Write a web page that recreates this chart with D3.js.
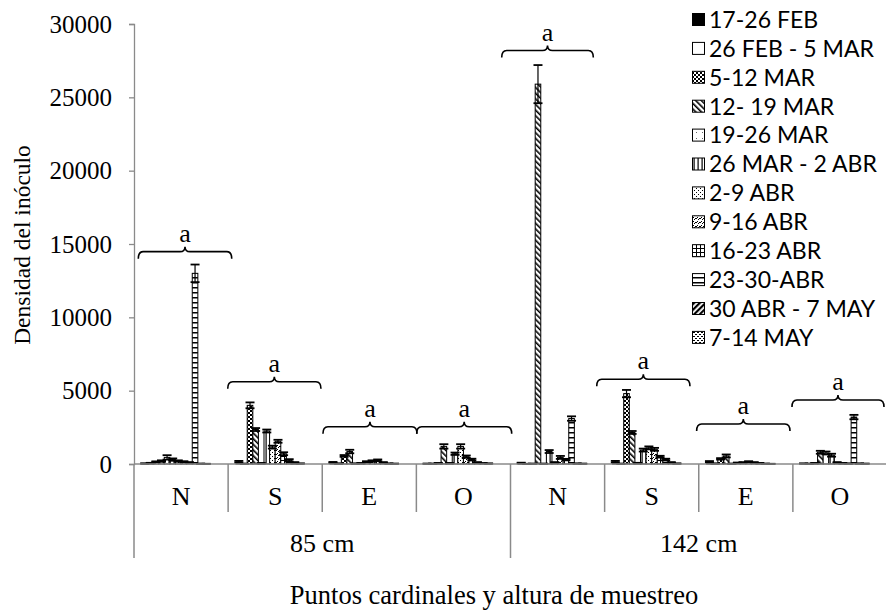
<!DOCTYPE html>
<html><head><meta charset="utf-8">
<script src="https://cdn.jsdelivr.net/npm/d3@7"></script>
<style>body{margin:0;background:#fff}svg{display:block}</style>
</head><body>
<svg id="chart" width="886" height="611"></svg>
<script>
// ---------- DATA ----------
const points = ["N", "S", "E", "O", "N", "S", "E", "O"];
const heights = ["85 cm", "142 cm"];
const seriesNames = ["17-26 FEB", "26 FEB - 5 MAR", "5-12 MAR", "12- 19 MAR", "19-26 MAR",
  "26 MAR - 2 ABR", "2-9 ABR", "9-16 ABR", "16-23 ABR", "23-30-ABR", "30 ABR - 7 MAY", "7-14 MAY"];
// values per series, groups: 85 N,S,E,O then 142 N,S,E,O
const feb17_26   = [30, 150, 100, 20, 60, 150, 150, 30];
const feb26_mar5 = [60, 20, 30, 20, 10, 20, 30, 20];
const mar5_12    = [150, 4000, 550, 50, 20, 4800, 350, 50];
const mar12_19   = [200, 2350, 850, 1200, 25900, 2150, 550, 800];
const mar19_26   = [450, 50, 30, 50, 20, 60, 20, 750];
const mar26_abr2 = [300, 2250, 50, 700, 850, 950, 80, 600];
const abr2_9     = [200, 1150, 150, 1200, 100, 1100, 100, 100];
const abr9_16    = [150, 1550, 200, 500, 450, 1000, 150, 50];
const abr16_23   = [100, 700, 250, 300, 300, 500, 100, 30];
const abr23_30   = [13000, 250, 100, 100, 3100, 300, 50, 3200];
const abr30_may7 = [20, 80, 30, 50, 30, 100, 20, 30];
const may7_14    = [10, 30, 20, 30, 20, 30, 10, 20];
// error bars (same layout)
const err17_26   = [20, 60, 40, 10, 30, 60, 50, 10];
const err26_5    = [20, 10, 10, 10, 5, 10, 10, 10];
const err5_12    = [30, 200, 60, 20, 10, 250, 50, 20];
const err12_19   = [50, 100, 120, 150, 1300, 100, 100, 100];
const err19_26   = [150, 20, 10, 20, 10, 20, 10, 100];
const err26_2    = [80, 100, 20, 80, 100, 100, 20, 100];
const err2_9     = [50, 100, 40, 150, 30, 100, 30, 30];
const err9_16    = [40, 100, 50, 80, 100, 100, 40, 20];
const err16_23   = [30, 100, 60, 60, 50, 60, 30, 10];
const err23_30   = [600, 80, 30, 30, 150, 60, 20, 150];
const err30_7    = [10, 50, 10, 10, 10, 30, 10, 10];
const err7_14    = [5, 10, 5, 10, 5, 10, 5, 5];
const yTicks = [0, 5000, 10000, 15000, 20000, 25000, 30000];
const bracketLabels = ["a", "a", "a", "a", "a", "a", "a", "a"];
const bracketLevels = [14480, 5610, 2540, 2540, 28190, 5780, 2730, 4360];
const xTitle = "Puntos cardinales y altura de muestreo";
const yTitle = "Densidad del inóculo";

const seriesValues = [feb17_26, feb26_mar5, mar5_12, mar12_19, mar19_26, mar26_abr2,
  abr2_9, abr9_16, abr16_23, abr23_30, abr30_may7, may7_14];
const seriesErrors = [err17_26, err26_5, err5_12, err12_19, err19_26, err26_2,
  err2_9, err9_16, err16_23, err23_30, err30_7, err7_14];

// ---------- LAYOUT ----------
const svg = d3.select("#chart");
const serif = "'Liberation Serif','Times New Roman',serif";
const sans = "Lato,'Open Sans',sans-serif";
const axisGray = "#8a8a8a";

const x0 = d3.scaleBand().domain(d3.range(points.length)).range([134, 887]);
const bw = x0.bandwidth();
const x1 = d3.scaleBand().domain(d3.range(14)).range([7.9, bw - 7.9]);
const y = d3.scaleLinear().domain([0, 30000]).range([464, 24]);

// ---------- PATTERNS ----------
const defs = svg.append("defs");
function pat(id, w, h, draw, transform) {
  const p = defs.append("pattern").attr("id", id).attr("patternUnits", "userSpaceOnUse")
    .attr("width", w).attr("height", h);
  if (transform) p.attr("patternTransform", transform);
  p.append("rect").attr("width", w).attr("height", h).attr("fill", "#fff");
  draw(p);
}
const fills = [];
fills[0] = "#000";
fills[1] = "#fff";
pat("p2", 4, 4, p => { p.append("rect").attr("width", 2).attr("height", 2);
  p.append("rect").attr("x", 2).attr("y", 2).attr("width", 2).attr("height", 2); });
fills[2] = "url(#p2)";
pat("p3", 4, 4, p => p.append("rect").attr("width", 1.6).attr("height", 4), "rotate(-45)");
fills[3] = "url(#p3)";
pat("p4", 6, 6, p => p.append("rect").attr("width", 1).attr("height", 1).attr("fill", "#666"));
fills[4] = "url(#p4)";
pat("p5", 4, 4, p => p.append("rect").attr("x", 1.5).attr("width", 1.2).attr("height", 4));
fills[5] = "url(#p5)";
pat("p6", 4, 4, p => { p.append("rect").attr("width", 1).attr("height", 1);
  p.append("rect").attr("x", 2).attr("y", 2).attr("width", 1).attr("height", 1); });
fills[6] = "url(#p6)";
pat("p7", 4, 4, p => p.append("path").attr("d", "M0,3 L2,1 M2,4 L4,2").attr("stroke", "#000").attr("stroke-width", 1));
fills[7] = "url(#p7)";
pat("p8", 4, 4, p => { p.append("rect").attr("width", 4).attr("height", 1);
  p.append("rect").attr("width", 1).attr("height", 4); });
fills[8] = "url(#p8)";
pat("p9", 5, 5, p => p.append("rect").attr("y", 2).attr("width", 5).attr("height", 1.5));
fills[9] = "url(#p9)";
pat("p10", 4, 4, p => p.append("rect").attr("width", 2.2).attr("height", 4), "rotate(45)");
fills[10] = "url(#p10)";
pat("p11", 4, 4, p => { p.append("rect").attr("x", 1).attr("width", 2).attr("height", 1);
  p.append("rect").attr("x", 0).attr("y", 2).attr("width", 1).attr("height", 1);
  p.append("rect").attr("x", 3).attr("y", 2).attr("width", 1).attr("height", 1); });
fills[11] = "url(#p11)";

// ---------- BARS ----------
const barData = [];
seriesValues.forEach((vals, s) => vals.forEach((v, g) =>
  barData.push({ s, g, v, e: seriesErrors[s][g] })));

const gBars = svg.append("g");
gBars.selectAll("rect").data(barData).join("rect")
  .attr("x", d => x0(d.g) + x1(d.s))
  .attr("y", d => y(d.v))
  .attr("width", x1.bandwidth())
  .attr("height", d => y(0) - y(d.v))
  .attr("fill", d => fills[d.s])
  .attr("stroke", "#000").attr("stroke-width", 1);

const gErr = svg.append("g").attr("stroke", "#000").attr("stroke-width", 1.8);
barData.forEach(d => {
  const cx = x0(d.g) + x1(d.s) + x1.bandwidth() / 2;
  const hi = y(d.v + d.e), lo = y(Math.max(0, d.v - d.e));
  gErr.append("line").attr("x1", cx).attr("x2", cx).attr("y1", hi).attr("y2", lo).attr("stroke-width", 1.2);
  gErr.append("line").attr("x1", cx - 4.5).attr("x2", cx + 4.5).attr("y1", hi).attr("y2", hi);
  gErr.append("line").attr("x1", cx - 4.5).attr("x2", cx + 4.5).attr("y1", lo).attr("y2", lo);
});

// ---------- AXES ----------
const yAxis = svg.append("g").attr("transform", "translate(134,0)")
  .call(d3.axisLeft(y).tickValues(yTicks).tickSize(5).tickPadding(17).tickFormat(d3.format("d")));
yAxis.select(".domain").attr("stroke", axisGray).attr("stroke-width", 1.3);
yAxis.selectAll(".tick line").attr("stroke", axisGray).attr("stroke-width", 1.3);
yAxis.selectAll(".tick text").attr("font-family", serif).attr("font-size", 25).attr("fill", "#000");

// x axis baseline
svg.append("line").attr("x1", 134).attr("x2", 887).attr("y1", y(0)).attr("y2", y(0))
  .attr("stroke", axisGray).attr("stroke-width", 1.5);
// separators
const gx = svg.append("g");
d3.range(points.length + 1).forEach(i => {
  const xx = i < points.length ? x0(i) : 887;
  const outer = i % 4 === 0;
  gx.append("line").attr("x1", xx).attr("x2", xx).attr("y1", y(0)).attr("y2", outer ? 558 : 512)
    .attr("stroke", axisGray).attr("stroke-width", 1.5);
});
gx.selectAll("text.pt").data(points).join("text").attr("class", "pt")
  .attr("x", (d, i) => x0(i) + bw / 2).attr("y", 505)
  .attr("text-anchor", "middle").attr("font-family", serif).attr("font-size", 26).text(d => d);
gx.selectAll("text.ht").data(heights).join("text").attr("class", "ht")
  .attr("x", (d, i) => (x0(i * 4) + x0(i * 4 + 3) + bw) / 2).attr("y", 552)
  .attr("text-anchor", "middle").attr("font-family", serif).attr("font-size", 26).text(d => d);

svg.append("text").attr("x", 494).attr("y", 604).attr("text-anchor", "middle")
  .attr("font-family", serif).attr("font-size", 26.5).text(xTitle);
svg.append("text").attr("transform", "translate(30,245) rotate(-90)").attr("text-anchor", "middle")
  .attr("font-family", serif).attr("font-size", 23.5).text(yTitle);

// ---------- BRACKETS ----------
const brOff = [[4.3, 3.6], [-0.4, -1.3], [0.7, 0.6], [0.3, 1.2], [-8.8, -11.3], [-7.9, -8.8], [-2.1, -2.9], [-0.9, -3]];
const gBr = svg.append("g");
bracketLevels.forEach((lv, i) => {
  const xl = x0(i) + brOff[i][0], xr = x0(i) + bw + brOff[i][1], xm = (xl + xr) / 2, yb = y(lv);
  const path = `M${xl},${yb + 7} Q${xl},${yb} ${xl + 5},${yb} L${xm - 5},${yb} Q${xm},${yb} ${xm},${yb - 5} ` +
    `Q${xm},${yb} ${xm + 5},${yb} L${xr - 5},${yb} Q${xr},${yb} ${xr},${yb + 7}`;
  gBr.append("path").attr("d", path).attr("fill", "none").attr("stroke", "#000").attr("stroke-width", 1.6);
  gBr.append("text").attr("x", xm).attr("y", yb - 10).attr("text-anchor", "middle")
    .attr("font-family", serif).attr("font-size", 26).text(bracketLabels[i]);
});

// ---------- LEGEND ----------
const gL = svg.append("g");
let fs = 22;
const probe = gL.append("text").attr("font-family", sans).attr("font-size", fs).text("26 MAR - 2 ABR");
const wProbe = probe.node().getComputedTextLength();
probe.remove();
fs = fs * 168 / wProbe;
seriesNames.forEach((name, i) => {
  const cy = 19.5 + i * 28.9;
  gL.append("rect").attr("x", 692.5).attr("y", cy - 6).attr("width", 12).attr("height", 12)
    .attr("fill", fills[i]).attr("stroke", "#000").attr("stroke-width", 1);
  gL.append("text").attr("x", 709).attr("y", cy).attr("dy", "0.36em")
    .attr("font-family", sans).attr("font-size", fs).text(name);
});
</script>
</body></html>
